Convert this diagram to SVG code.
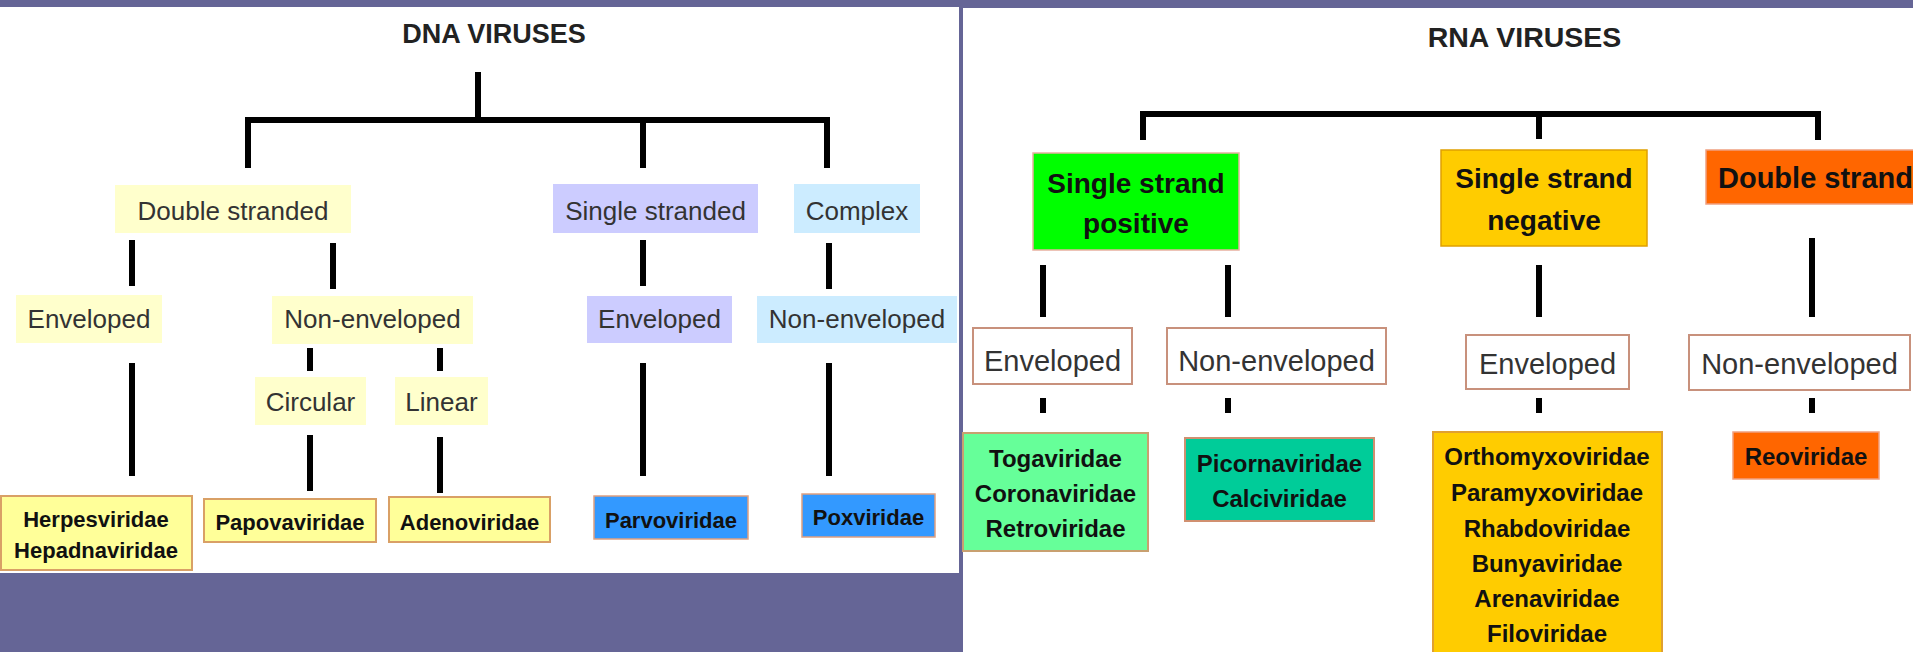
<svg xmlns="http://www.w3.org/2000/svg" width="1913" height="652" viewBox="0 0 1913 652">
  <style>
    .panel { fill: #ffffff; }
    .title { font-family: "Liberation Sans", Arial, sans-serif; font-weight: bold; fill: #222222; text-anchor: middle; }
    .lbl { font-family: "Liberation Sans", Arial, sans-serif; fill: #333333; text-anchor: middle; }
    .dna { font-size: 26px; }
    .rna { font-size: 29px; }
    .fam { font-family: "Liberation Sans", Arial, sans-serif; font-weight: bold; fill: #111111; text-anchor: middle; }
    .famd { font-size: 22px; }
    .famr { font-size: 24px; }
    .head { font-family: "Liberation Sans", Arial, sans-serif; font-weight: bold; fill: #111111; font-size: 28px; text-anchor: middle; }
    .link { fill: none; stroke: #000000; stroke-width: 6; stroke-linecap: butt; stroke-linejoin: miter; }
    .ds { fill: #FFFFCC; }
    .ss { fill: #CCCCFF; }
    .cx { fill: #CCECFF; }
    .yfam { fill: #FFFF99; stroke: #D9A066; stroke-width: 2; }
    .bfam { fill: #3399FF; stroke: #E0A080; stroke-width: 1.5; }
    .wbox { fill: #ffffff; stroke: #C8917C; stroke-width: 2; }
  </style>

  <!-- backdrop and the two white panels -->
  <rect x="0" y="0" width="1913" height="652" fill="#656596"/>
  <rect class="panel" x="0" y="7" width="959" height="566"/>
  <rect class="panel" x="963" y="8" width="950" height="644"/>

  <!-- connectors -->
  <g id="connectors">
    <!-- DNA tree -->
    <path class="link" d="M478 72 V120"/>
    <path class="link" d="M248 168 V120 H827 V168"/>
    <path class="link" d="M643 120 V168"/>
    <path class="link" d="M132 240 V286"/>
    <path class="link" d="M333 243 V289"/>
    <path class="link" d="M643 240 V286"/>
    <path class="link" d="M829 243 V289"/>
    <path class="link" d="M310 348 V371"/>
    <path class="link" d="M440 348 V371"/>
    <path class="link" d="M132 363 V476"/>
    <path class="link" d="M310 435 V491"/>
    <path class="link" d="M440 437 V493"/>
    <path class="link" d="M643 363 V476"/>
    <path class="link" d="M829 363 V476"/>
    <!-- RNA tree -->
    <path class="link" d="M1143 140 V114 H1818 V140"/>
    <path class="link" d="M1539 114 V139"/>
    <path class="link" d="M1043 265 V317"/>
    <path class="link" d="M1228 265 V317"/>
    <path class="link" d="M1539 265 V317"/>
    <path class="link" d="M1812 238 V317"/>
    <path class="link" d="M1043 398 V413"/>
    <path class="link" d="M1228 398 V413"/>
    <path class="link" d="M1539 398 V413"/>
    <path class="link" d="M1812 398 V413"/>
  </g>

  <!-- DNA side -->
  <g id="dna-title"><text class="title" x="494" y="43" font-size="27">DNA VIRUSES</text></g>

  <g id="dna-double">
    <rect class="ds" x="115" y="185" width="236" height="48"/>
    <text class="lbl dna" x="233" y="220">Double stranded</text>
  </g>
  <g id="dna-single">
    <rect class="ss" x="553" y="184" width="205" height="49"/>
    <text class="lbl dna" x="655.5" y="220">Single stranded</text>
  </g>
  <g id="dna-complex">
    <rect class="cx" x="794" y="184" width="126" height="49"/>
    <text class="lbl dna" x="857" y="220">Complex</text>
  </g>

  <g id="dna-ds-env">
    <rect class="ds" x="16" y="295" width="146" height="48"/>
    <text class="lbl dna" x="89" y="328">Enveloped</text>
  </g>
  <g id="dna-ds-nonenv">
    <rect class="ds" x="272" y="296" width="201" height="48"/>
    <text class="lbl dna" x="372.5" y="328">Non-enveloped</text>
  </g>
  <g id="dna-ss-env">
    <rect class="ss" x="587" y="296" width="145" height="47"/>
    <text class="lbl dna" x="659.5" y="328">Enveloped</text>
  </g>
  <g id="dna-cx-nonenv">
    <rect class="cx" x="757" y="296" width="200" height="47"/>
    <text class="lbl dna" x="857" y="328">Non-enveloped</text>
  </g>

  <g id="dna-circular">
    <rect class="ds" x="255" y="377" width="111" height="48"/>
    <text class="lbl dna" x="310.5" y="411">Circular</text>
  </g>
  <g id="dna-linear">
    <rect class="ds" x="395" y="377" width="93" height="48"/>
    <text class="lbl dna" x="441.5" y="411">Linear</text>
  </g>

  <g id="fam-herpes">
    <rect class="yfam" x="1" y="496" width="191" height="74"/>
    <text class="fam famd" x="96" y="527">Herpesviridae</text>
    <text class="fam famd" x="96" y="558">Hepadnaviridae</text>
  </g>
  <g id="fam-papova">
    <rect class="yfam" x="204" y="499" width="172" height="43"/>
    <text class="fam famd" x="290" y="530">Papovaviridae</text>
  </g>
  <g id="fam-adeno">
    <rect class="yfam" x="389" y="497" width="161" height="45"/>
    <text class="fam famd" x="469.5" y="530">Adenoviridae</text>
  </g>
  <g id="fam-parvo">
    <rect class="bfam" x="594" y="496" width="154" height="43"/>
    <text class="fam famd" x="671" y="528">Parvoviridae</text>
  </g>
  <g id="fam-pox">
    <rect class="bfam" x="802" y="494" width="133" height="43"/>
    <text class="fam famd" x="868.5" y="525">Poxviridae</text>
  </g>

  <!-- RNA side -->
  <g id="rna-title"><text class="title" x="1524.5" y="47" font-size="28.5">RNA VIRUSES</text></g>

  <g id="rna-ss-pos">
    <rect x="1033" y="153" width="206" height="97" fill="#00FF00" stroke="#E8B0A0" stroke-width="1.5"/>
    <text class="head" x="1136" y="193">Single strand</text>
    <text class="head" x="1136" y="233">positive</text>
  </g>
  <g id="rna-ss-neg">
    <rect x="1441" y="150" width="206" height="96" fill="#FFCC00" stroke="#E0A000" stroke-width="1.5"/>
    <text class="head" x="1544" y="188">Single strand</text>
    <text class="head" x="1544" y="230">negative</text>
  </g>
  <g id="rna-ds">
    <rect x="1706" y="150" width="230" height="54" fill="#FF6600" stroke="#F0A080" stroke-width="1.5"/>
    <text class="head" x="1718" y="188" style="text-anchor:start; font-size:29px">Double strand</text>
  </g>

  <g id="rna-pos-env">
    <rect class="wbox" x="973" y="328" width="159" height="56"/>
    <text class="lbl rna" x="1052.5" y="371">Enveloped</text>
  </g>
  <g id="rna-pos-nonenv">
    <rect class="wbox" x="1167" y="328" width="219" height="56"/>
    <text class="lbl rna" x="1276.5" y="371">Non-enveloped</text>
  </g>
  <g id="rna-neg-env">
    <rect class="wbox" x="1466" y="335" width="163" height="54"/>
    <text class="lbl rna" x="1547.5" y="374">Enveloped</text>
  </g>
  <g id="rna-ds-nonenv">
    <rect class="wbox" x="1689" y="335" width="221" height="55"/>
    <text class="lbl rna" x="1799.5" y="374">Non-enveloped</text>
  </g>

  <g id="fam-toga">
    <rect x="963" y="433" width="185" height="118" fill="#66FF99" stroke="#C8A070" stroke-width="2"/>
    <text class="fam famr" x="1055.5" y="467">Togaviridae</text>
    <text class="fam famr" x="1055.5" y="502">Coronaviridae</text>
    <text class="fam famr" x="1055.5" y="537">Retroviridae</text>
  </g>
  <g id="fam-picorna">
    <rect x="1185" y="438" width="189" height="83" fill="#00CC99" stroke="#D09070" stroke-width="2"/>
    <text class="fam famr" x="1279.5" y="472">Picornaviridae</text>
    <text class="fam famr" x="1279.5" y="507">Calciviridae</text>
  </g>
  <g id="fam-orthomyxo">
    <rect x="1433" y="432" width="229" height="240" fill="#FFCC00" stroke="#E0A030" stroke-width="2"/>
    <text class="fam famr" x="1547" y="465">Orthomyxoviridae</text>
    <text class="fam famr" x="1547" y="501">Paramyxoviridae</text>
    <text class="fam famr" x="1547" y="537">Rhabdoviridae</text>
    <text class="fam famr" x="1547" y="572">Bunyaviridae</text>
    <text class="fam famr" x="1547" y="607">Arenaviridae</text>
    <text class="fam famr" x="1547" y="642">Filoviridae</text>
  </g>
  <g id="fam-reo">
    <rect x="1733" y="432" width="146" height="47" fill="#FF6600" stroke="#F0A080" stroke-width="1.5"/>
    <text class="fam famr" x="1806" y="465">Reoviridae</text>
  </g>
</svg>
